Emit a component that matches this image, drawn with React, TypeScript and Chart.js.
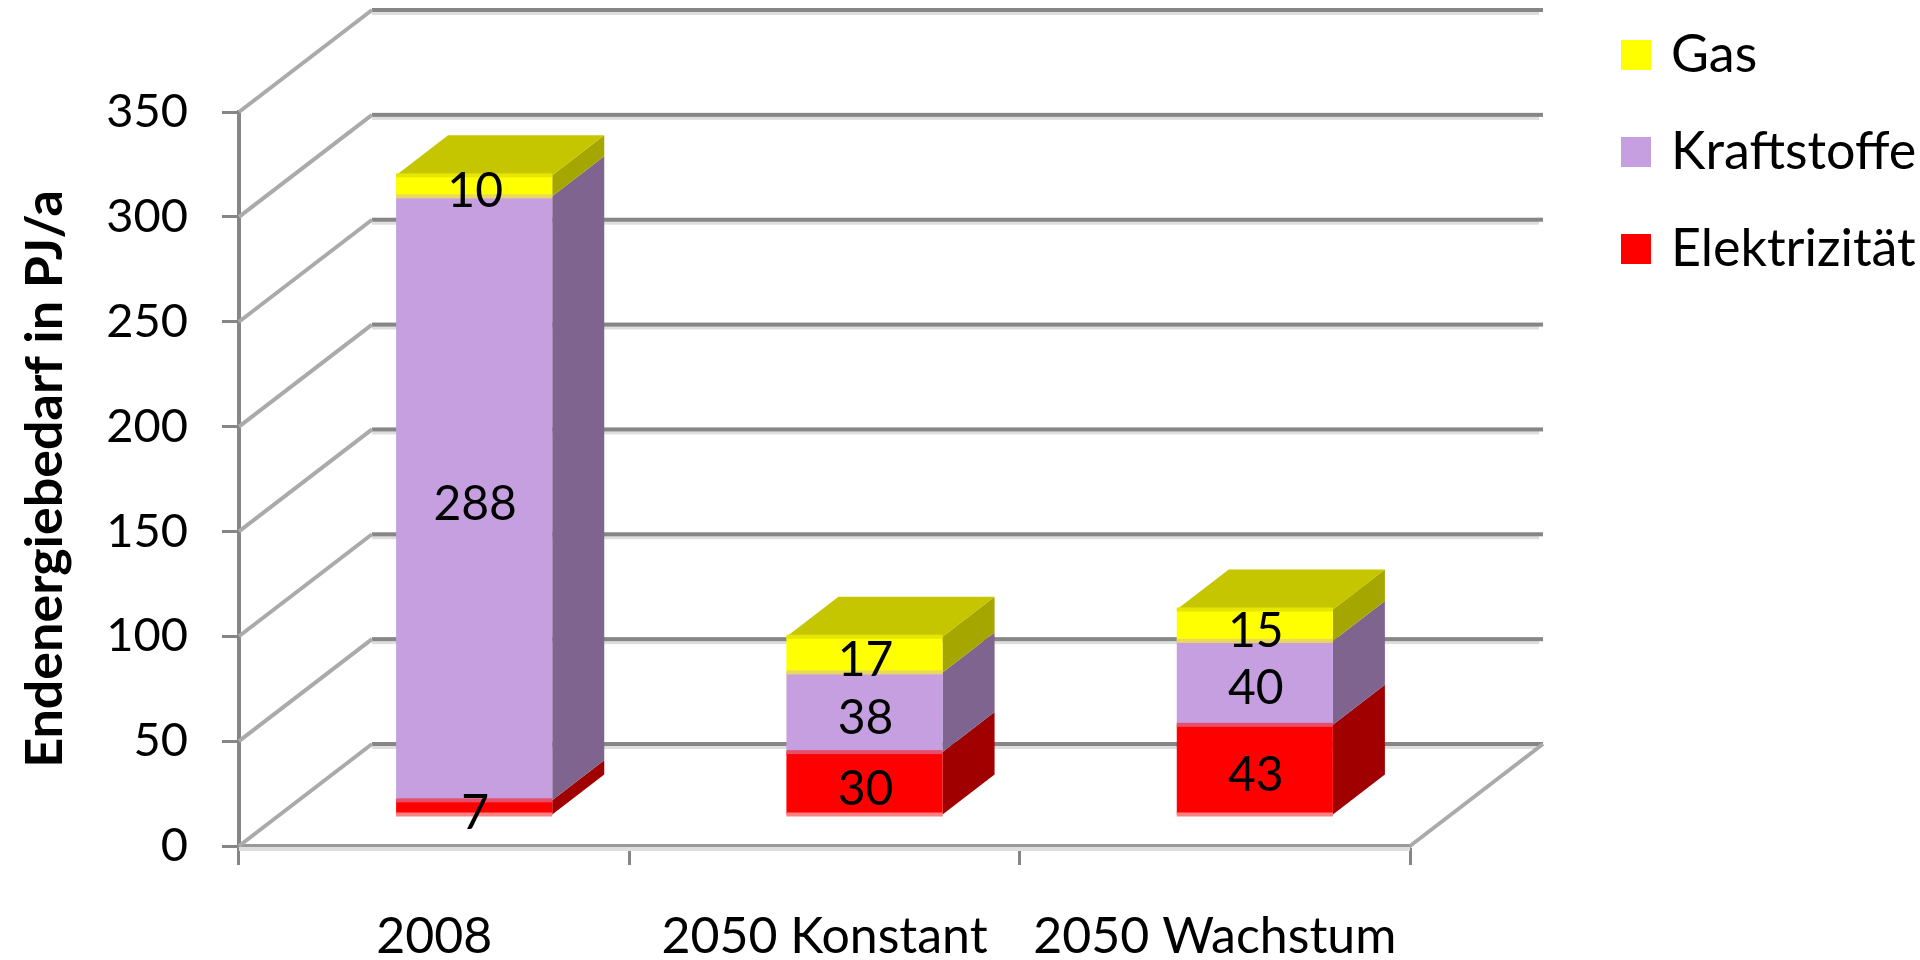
import React, { useEffect, useRef } from "react";
import { Chart, registerables } from "chart.js";

Chart.register(...registerables);

const categories = ["2008", "2050 Konstant", "2050 Wachstum"];
const elektrizitaet = [7, 30, 43];
const kraftstoffe = [288, 38, 40];
const gas = [10, 17, 15];
const yMax = 350;
const yStep = 50;
const yTitle = "Endenergiebedarf in PJ/a";

const FONT = "Lato, Carlito, sans-serif";
const GRID = "#868686";
const WALL_DX = 133;
const WALL_DY = 102;
const BAR_DX = 40;
const BAR_DY = 31;
const SIDE_DX = 52;
const SIDE_DY = 40;
const LEGEND_PAD = 45;
const LEGEND_LEFT = 1627 - LEGEND_PAD;
const LEGEND_TOP = -16;

const sideColors = ["#A00000", "#7F648F", "#A6A600"];
const seamColors = ["#E4506C", "#E8D860", "#E6E600"];
const topColor = "#C6C600";

const poly = (ctx: CanvasRenderingContext2D, pts: number[][], color: string) => {
  ctx.fillStyle = color;
  ctx.beginPath();
  pts.forEach((p, i) => (i ? ctx.lineTo(p[0], p[1]) : ctx.moveTo(p[0], p[1])));
  ctx.closePath();
  ctx.fill();
};

const wall3d = {
  id: "wall3d",
  afterLayout(chart: any) {
    const l = chart.legend;
    if (l) {
      const w = l.width;
      const h = l.height;
      l.left = LEGEND_LEFT;
      l.top = LEGEND_TOP;
      l.right = LEGEND_LEFT + w;
      l.bottom = LEGEND_TOP + Math.max(h, 400);
    }
  },
  beforeDatasetsDraw(chart: any) {
    const { ctx, chartArea, scales } = chart;
    const y = scales.y;
    ctx.save();
    const backLeft = chartArea.left + WALL_DX;
    const backRight = chartArea.right + WALL_DX;
    for (const t of y.ticks) {
      const py = y.getPixelForValue(t.value);
      ctx.fillStyle = "#dedede";
      ctx.fillRect(backLeft, py - WALL_DY - 1, backRight - backLeft - 4, 6);
      ctx.fillStyle = GRID;
      ctx.fillRect(backLeft, py - WALL_DY - 2, backRight - backLeft, 4);
      ctx.strokeStyle = "#aaaaaa";
      ctx.lineWidth = 4;
      ctx.beginPath();
      ctx.moveTo(chartArea.left, py);
      ctx.lineTo(backLeft, py - WALL_DY);
      ctx.stroke();
    }
    const y0 = y.getPixelForValue(0);
    ctx.beginPath();
    ctx.moveTo(chartArea.right, y0);
    ctx.lineTo(backRight, y0 - WALL_DY);
    ctx.stroke();
    ctx.fillStyle = "#dedede";
    ctx.fillRect(chartArea.left, y0 + 1, chartArea.right - chartArea.left, 4);
    chart.data.datasets.forEach((_: any, d: number) => {
      chart.getDatasetMeta(d).data.forEach((b: any) => {
        const right = b.x + b.width / 2 + BAR_DX;
        const left = b.x - b.width / 2 + BAR_DX;
        const top = b.y - BAR_DY;
        const base = b.base - BAR_DY;
        poly(ctx, [[right, top], [right + SIDE_DX, top - SIDE_DY], [right + SIDE_DX, base - SIDE_DY], [right, base]], sideColors[d]);
        if (d === chart.data.datasets.length - 1) {
          poly(ctx, [[left, top], [left + SIDE_DX, top - SIDE_DY], [right + SIDE_DX, top - SIDE_DY], [right, top]], topColor);
        }
      });
    });
    ctx.restore();
  },
  beforeDatasetDraw(chart: any) {
    chart.ctx.save();
    chart.ctx.translate(BAR_DX, -BAR_DY);
  },
  afterDatasetDraw(chart: any) {
    chart.ctx.restore();
  },
  afterDatasetsDraw(chart: any) {
    const { ctx } = chart;
    ctx.save();
    chart.data.datasets.forEach((_: any, d: number) => {
      chart.getDatasetMeta(d).data.forEach((b: any) => {
        const left = b.x - b.width / 2 + BAR_DX;
        ctx.fillStyle = seamColors[d];
        ctx.fillRect(left, b.y - BAR_DY - 2, b.width, 4);
        if (d === 0) {
          ctx.fillStyle = "#FF8080";
          ctx.fillRect(left, b.base - BAR_DY - 2, b.width, 4);
        }
      });
    });
    ctx.font = `48px ${FONT}`;
    ctx.fillStyle = "#000";
    ctx.textAlign = "center";
    ctx.textBaseline = "middle";
    chart.data.datasets.forEach((ds: any, d: number) => {
      chart.getDatasetMeta(d).data.forEach((b: any, i: number) => {
        ctx.fillText(String(ds.data[i]), b.x + BAR_DX + 1, (b.y + b.base) / 2 - BAR_DY + 6);
      });
    });
    ctx.restore();
  },
};

export default function App() {
  const ref = useRef<HTMLCanvasElement>(null);
  useEffect(() => {
    const chart = new Chart(ref.current as HTMLCanvasElement, {
      type: "bar",
      data: {
        labels: categories,
        datasets: [
          { label: "Elektrizität", data: elektrizitaet, backgroundColor: "#FF0000" },
          { label: "Kraftstoffe", data: kraftstoffe, backgroundColor: "#C59FE0" },
          { label: "Gas", data: gas, backgroundColor: "#FFFF00" },
        ],
      },
      options: {
        responsive: false,
        animation: false,
        categoryPercentage: 1,
        barPercentage: 0.4,
        layout: { padding: { left: 0, top: 112, right: 510, bottom: 0 } },
        plugins: {
          tooltip: { enabled: false },
          legend: {
            position: "chartArea",
            align: "start",
            reverse: true,
            labels: {
              usePointStyle: true,
              pointStyle: "rect",
              boxWidth: 18,
              boxHeight: 30,
              padding: LEGEND_PAD,
              color: "#000",
              font: { family: FONT, size: 52 },
            },
          },
        },
        scales: {
          x: {
            stacked: true,
            afterFit: (s: any) => { s.height = 114; },
            grid: { display: true, offset: true, drawOnChartArea: false, color: GRID, tickColor: GRID, tickLength: 19, tickWidth: 3 },
            border: { color: "#999999", width: 4 },
            ticks: { color: "#000", padding: 42, maxRotation: 0, autoSkip: false, font: { family: FONT, size: 50 } },
          },
          y: {
            stacked: true,
            min: 0,
            max: yMax,
            afterFit: (s: any) => { s.width = 239; },
            grid: { drawOnChartArea: false, color: GRID, tickColor: GRID, tickLength: 17, tickWidth: 3 },
            border: { color: GRID, width: 4 },
            ticks: { stepSize: yStep, color: "#000", padding: 34, font: { family: FONT, size: 47 } },
            title: { display: true, text: yTitle, color: "#000", padding: { top: 14, bottom: 0 }, font: { family: FONT, size: 52, weight: "bold" } },
          },
        },
      } as any,
      plugins: [wall3d],
    });
    return () => chart.destroy();
  }, []);
  return (
    <div style={{ position: "absolute", left: 0, top: 0, width: 1920, height: 960 }}>
      <canvas ref={ref} width={1920} height={960} style={{ display: "block" }} />
    </div>
  );
}
